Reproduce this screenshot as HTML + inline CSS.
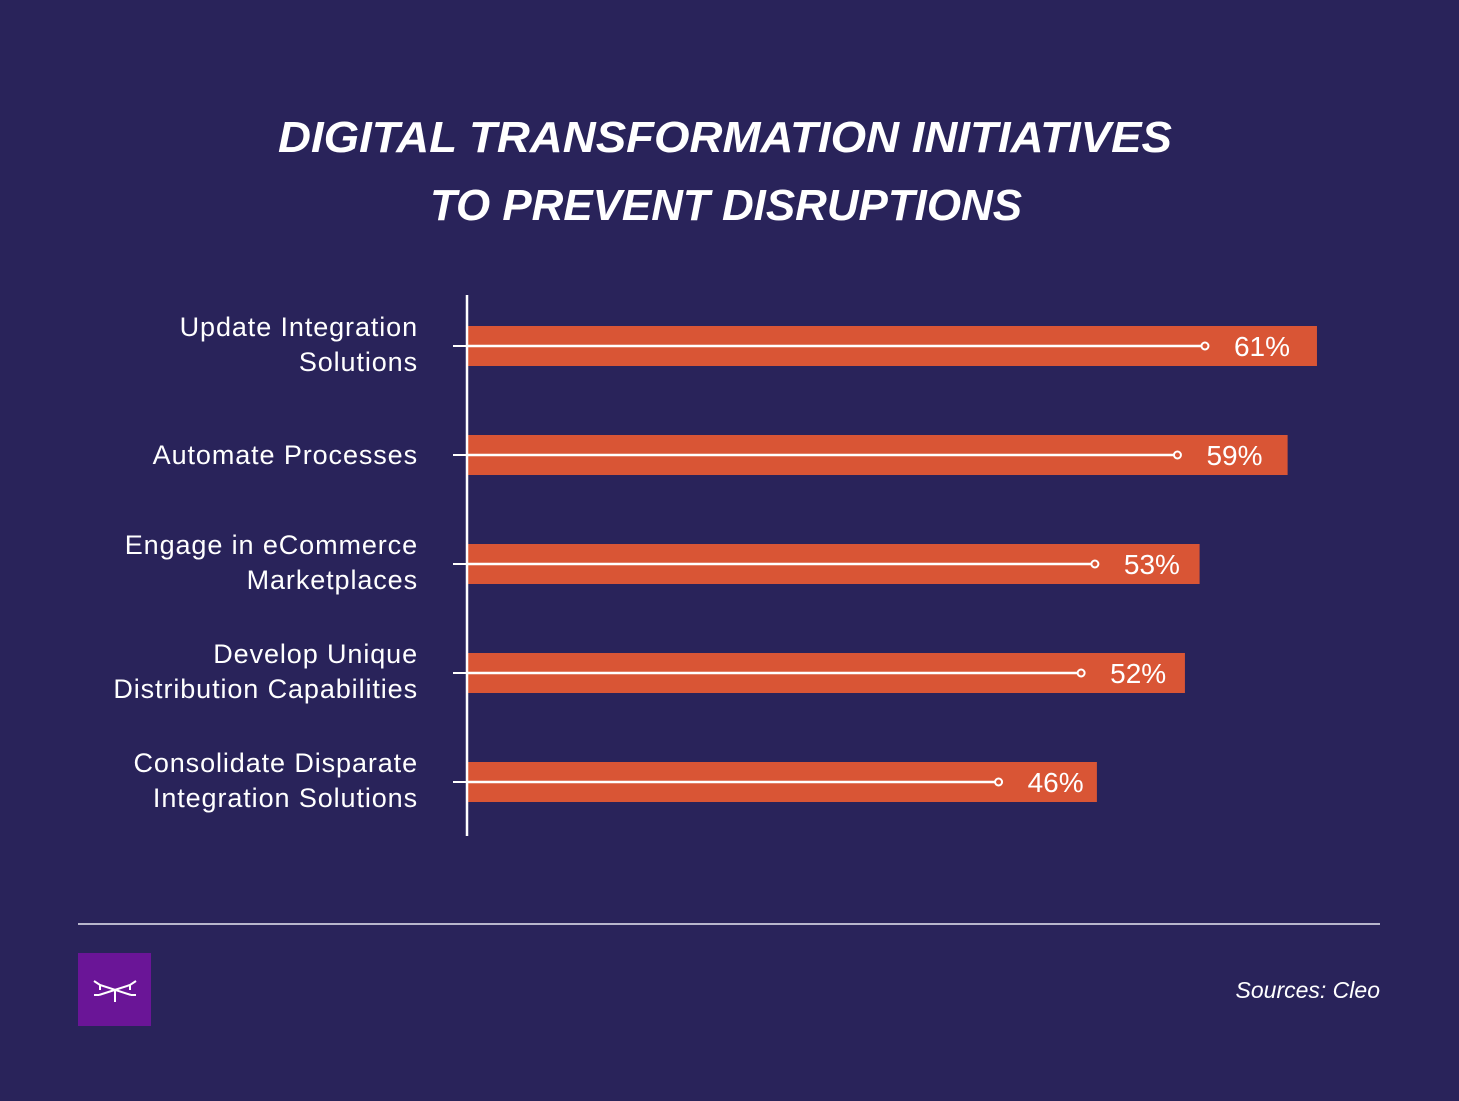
<!DOCTYPE html>
<html><head><meta charset="utf-8"><style>
html,body{margin:0;padding:0;background:#29235a;}
svg{display:block;font-family:"Liberation Sans",sans-serif;}
</style></head><body>
<svg id="chart" width="1459" height="1101" viewBox="0 0 1459 1101" xmlns="http://www.w3.org/2000/svg">
<rect width="1459" height="1101" fill="#29235a"/>
<text x="725" y="152" text-anchor="middle" fill="#fff" font-size="44" font-weight="bold" font-style="italic" textLength="894" lengthAdjust="spacingAndGlyphs">DIGITAL TRANSFORMATION INITIATIVES</text>
<text x="726" y="220" text-anchor="middle" fill="#fff" font-size="44" font-weight="bold" font-style="italic" textLength="592" lengthAdjust="spacingAndGlyphs">TO PREVENT DISRUPTIONS</text>
<g id="bars"></g>
<line x1="467" y1="295" x2="467" y2="836" stroke="#fff" stroke-width="2.5"/>
<line x1="78" y1="924" x2="1380" y2="924" stroke="#b8b6cc" stroke-width="2"/>
<g>
<rect x="78" y="953" width="73" height="73" fill="#6a1597"/>
<path d="M94 981 L100 985 L131 995 M136 981 L130 985 L99 995 M100 985 L100 990 M130 985 L130 990 M99 995 L94 995 M131 995 L136 995 M115 990 L115 1002" stroke="#fff" stroke-width="2" fill="none"/>
</g>
<text x="1380" y="998" text-anchor="end" fill="#fff" font-size="23" font-style="italic">Sources: Cleo</text>
</svg>
<script>
const categories=[["Update Integration","Solutions"],["Automate Processes"],["Engage in eCommerce","Marketplaces"],["Develop Unique","Distribution Capabilities"],["Consolidate Disparate","Integration Solutions"]];
const values=[61,59,53,52,46];
const valueLabels=["61%","59%","53%","52%","46%"];
const NS="http://www.w3.org/2000/svg";
const g=document.getElementById('bars');
const x0=467;
function xMarker(v){return 1111.4+(v-54.2)*13.76;}
function xBarEnd(v){return 1217.2+(v-54.2)*14.67;}
function yCenter(i){return 346+i*109;}
function mk(t,a){const e=document.createElementNS(NS,t);for(const k in a)e.setAttribute(k,a[k]);g.appendChild(e);return e;}
values.forEach((v,i)=>{
 const cy=yCenter(i), cx=xMarker(v);
 let e=mk('rect',{x:x0,y:cy-20,width:xBarEnd(v)-x0,height:40,fill:'#d95535'});
 
 
 e=mk('line',{x1:x0,y1:cy,x2:cx-4,y2:cy,stroke:'#fff','stroke-width':2.5});
 
 
 e=mk('circle',{cx:cx,cy:cy,r:3.5,fill:'none',stroke:'#fff','stroke-width':2});
 
 
 e=mk('text',{x:cx+29,y:cy+10,fill:'#fff','font-size':28});
 e.textContent=valueLabels[i];
 
 
 e=mk('line',{x1:453,y1:cy,x2:467,y2:cy,stroke:'#fff','stroke-width':2});
 
 
 const lines=categories[i];
 lines.forEach((s,j)=>{
  const yy=lines.length===1?cy+9:cy-10+j*35;
  const t=mk('text',{x:418,y:yy,'text-anchor':'end',fill:'#fff','font-size':27,'letter-spacing':'0.9'});
  t.textContent=s;
  
  
 });
});
</script>
</body></html>
